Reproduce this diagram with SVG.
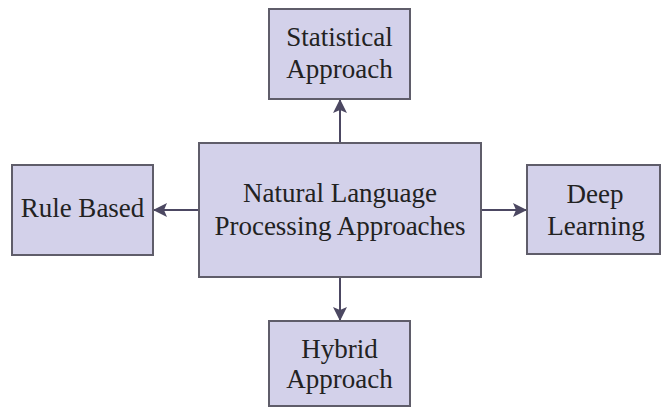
<svg xmlns="http://www.w3.org/2000/svg" width="662" height="408" viewBox="0 0 662 408">
<defs>
<style>
.box{fill:#d3d1ea;stroke:#5f5d6a;stroke-width:2}
.lbl{font-size:27px;fill:#222;text-anchor:middle}
.conn{stroke:#4c4862;stroke-width:2;fill:none}
</style>
<marker id="arr" viewBox="0 0 14 14" refX="13" refY="7" markerWidth="14" markerHeight="14" markerUnits="userSpaceOnUse" orient="auto">
<path d="M0,0 L14,7 L0,14 L3,7 Z" fill="#4c4862"/>
</marker>
</defs>
<rect width="662" height="408" fill="#ffffff"/>
<g id="connectors">
<line class="conn" x1="340" y1="143" x2="340" y2="100" marker-end="url(#arr)"/>
<line class="conn" x1="340" y1="277" x2="340" y2="320" marker-end="url(#arr)"/>
<line class="conn" x1="199" y1="210" x2="154" y2="210" marker-end="url(#arr)"/>
<line class="conn" x1="481" y1="210" x2="526" y2="210" marker-end="url(#arr)"/>
</g>
<g id="center" font-family="Liberation Serif, serif">
<rect class="box" x="199" y="143" width="282" height="134"/>
<text class="lbl" x="340" y="202">Natural Language</text>
<text class="lbl" x="340" y="235">Processing Approaches</text>
</g>
<g id="statistical" font-family="Liberation Serif, serif">
<rect class="box" x="269" y="9" width="141" height="90"/>
<text class="lbl" x="339.5" y="46">Statistical</text>
<text class="lbl" x="339.5" y="78">Approach</text>
</g>
<g id="rule" font-family="Liberation Serif, serif">
<rect class="box" x="12" y="165" width="141" height="90"/>
<text class="lbl" x="82.5" y="217">Rule Based</text>
</g>
<g id="deep" font-family="Liberation Serif, serif">
<rect class="box" x="527" y="165" width="133" height="89"/>
<text class="lbl" x="595" y="203">Deep</text>
<text class="lbl" x="596" y="235">Learning</text>
</g>
<g id="hybrid" font-family="Liberation Serif, serif">
<rect class="box" x="269" y="321" width="141" height="85"/>
<text class="lbl" x="339.5" y="358">Hybrid</text>
<text class="lbl" x="339.5" y="388">Approach</text>
</g>
</svg>
